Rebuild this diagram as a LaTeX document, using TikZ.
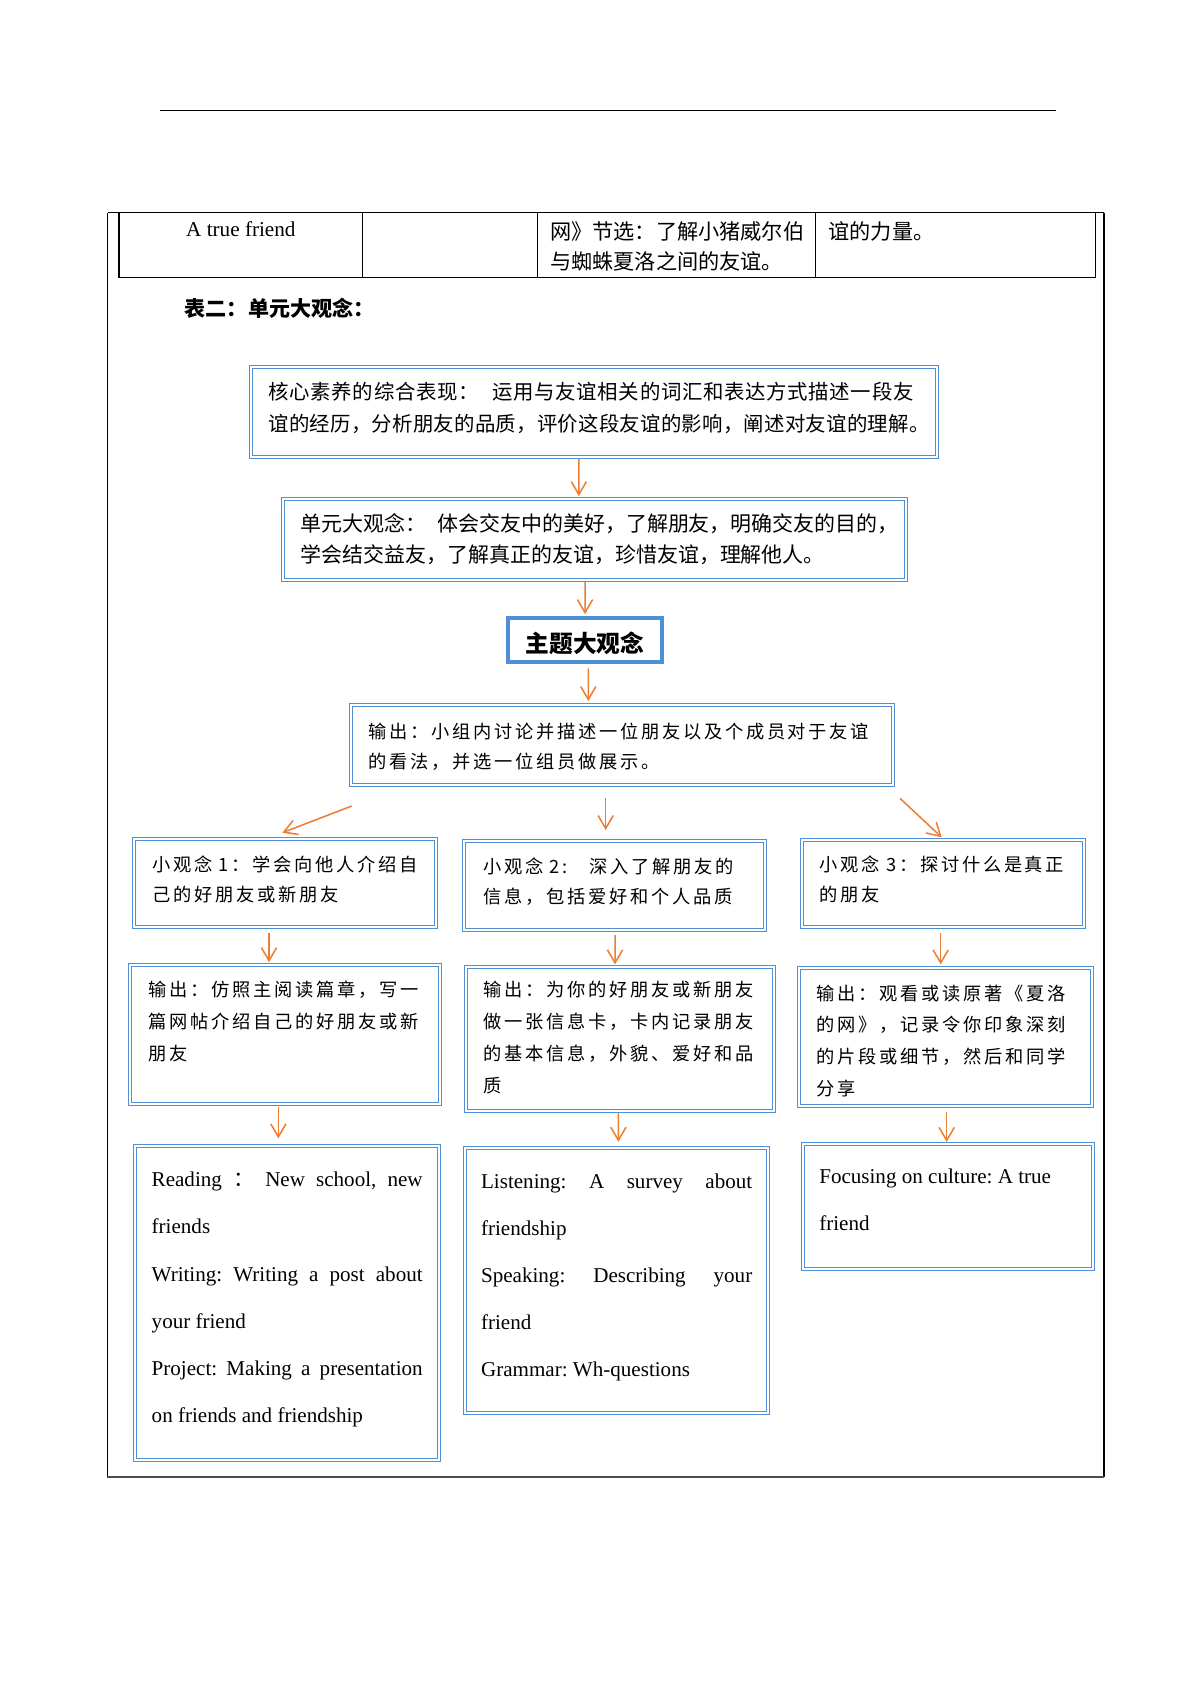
\documentclass[tikz,border=0pt]{standalone}
\usepackage{fontspec}
\setmainfont{Liberation Serif}
\newfontfamily\cjk{Noto Sans CJK SC}
\newfontfamily\cjkwide[LetterSpace=3.3]{Noto Sans CJK SC}
\newfontfamily\cjkwidea[LetterSpace=1.2]{Noto Sans CJK SC}
\newfontfamily\cjksp[LetterSpace=15]{Noto Sans CJK SC}
\usetikzlibrary{arrows.meta,calc}
\definecolor{boxblue}{RGB}{79,143,214}
\definecolor{arrorange}{RGB}{237,125,49}
\newcommand{\mkbox}[5]{\node[dbox,minimum width={#4-#2-3.6},minimum height={#5-#3-3.6}] (#1) at ({(#2+#4)/2},{(#3+#5)/2}) {};}
\newcommand{\natsp}{\spaceskip=0pt\xspaceskip=0pt\frenchspacing}
\begin{document}
\begin{tikzpicture}[x=1pt,y=-1pt,
  dbox/.style={draw=boxblue,double=white,line width=0.9pt,double distance=1.8pt,inner sep=0pt,outer sep=0pt,rectangle},
  tbox/.style={draw=boxblue,line width=3.7pt,inner sep=0pt,outer sep=0pt,rectangle},
  arr/.style={draw=arrorange,line width=1.4pt,-{Straight Barb[length=12pt,width=14pt]}},
  cjktxt/.style={anchor=base west,inner sep=0pt,outer sep=0pt,align=left,text width=640pt,font=\cjk\fontsize{18.8}{29.1}\selectfont},
  sptxt/.style={anchor=base west,inner sep=0pt,outer sep=0pt,align=left,text width=640pt,font=\cjksp\fontsize{16.8}{29.2}\selectfont},
  entxt/.style={anchor=base west,inner sep=0pt,outer sep=0pt,align=left,text width=300pt,font=\fontsize{19.4}{43.5}\selectfont},
  frameline/.style={line width=1.1pt,draw=black}
]
\useasboundingbox (0,0) rectangle (1105,1562.6);

% header rule
\draw[line width=0.9pt] (147.3,101.9) -- (972,101.9);

% outer frame
\draw[frameline] (99,195.8) -- (1016.5,195.8);
\draw[frameline] (99,195.8) -- (99,1360);
\draw[frameline] (1016.5,195.8) -- (1016.5,1360);
\draw[line width=1.6pt,draw=black!70] (98.5,1360) -- (1017,1360);

% table row
\draw[frameline] (109.6,195.8) rectangle (1009,255.4);
\foreach \x in {334,494.8,750.8} \draw[frameline] (\x,195.8) -- (\x,255.4);
\node[anchor=base,inner sep=0pt,font=\fontsize{19.5}{23}\selectfont] (t11) at (221.8,218) {A true friend};
\node[cjktxt,font=\cjk\fontsize{19.5}{27.7}\selectfont] (t13) at (506.6,220.7) {网》节选：了解小猪威尔伯\\与蜘蛛夏洛之间的友谊。};
\node[cjktxt,font=\cjk\fontsize{19.5}{27.7}\selectfont] (t14) at (763,220.7) {谊的力量。};

\node[cjktxt,font=\cjk\bfseries\fontsize{19.4}{22}\selectfont] (head2) at (170.2,291.2) {表二：单元大观念：};

% boxes
\mkbox{b1}{229.5}{336.1}{864.5}{422.7}
\mkbox{b2}{259.2}{457.3}{836}{535.6}
\node[tbox,minimum width=142pt,minimum height=41pt] (b3) at (538.85,589.15) {};
\mkbox{b4}{321.4}{647.5}{824.1}{725}
\mkbox{nA}{121.2}{771}{403.6}{855.7}
\mkbox{nB}{425.7}{772.8}{706}{857.9}
\mkbox{nC}{736.6}{771.3}{1000}{855.7}
\mkbox{nA2}{118}{887}{406.7}{1018}
\mkbox{nB2}{427.3}{888.6}{714.3}{1024.5}
\mkbox{nC2}{733.6}{889.2}{1007.7}{1020}
\mkbox{nA3}{122.8}{1053.2}{406}{1346}
\mkbox{nB3}{426}{1055}{709}{1303}
\mkbox{nC3}{737.3}{1051.3}{1008.3}{1170.4}

% texts
\node[cjktxt] (b1t) at (247.3,367.8) {{\cjkwide 核心素养的综合表现：}\hspace{12.5pt}{\cjkwide 运用与友谊相关的词汇和表达方式描述一段友}\\{\cjkwidea 谊的经历，分析朋友的品质，评价这段友谊的影响，阐述对友谊的理解。}};
\node[cjktxt,font=\cjk\fontsize{19.3}{29.1}\selectfont] (b2t) at (277,489) {单元大观念：\hspace{10pt}体会交友中的美好，了解朋友，明确交友的目的，\\学会结交益友，了解真正的友谊，珍惜友谊，理解他人。};
\node[anchor=center,inner sep=0pt,font=\cjk\bfseries\fontsize{21.8}{26}\selectfont] (b3t) at (538.8,592.4) {主题大观念};
\node[sptxt,font=\cjksp\fontsize{16.8}{27.7}\selectfont] (b4t) at (339.2,680.1) {输出：小组内讨论并描述一位朋友以及个成员对于友谊\\的看法，并选一位组员做展示。};

\node[sptxt,font=\cjksp\fontsize{16.8}{27.6}\selectfont] (nAt) at (140.3,802.9) {小观念 1：学会向他人介绍自\\己的好朋友或新朋友};
\node[sptxt,font=\cjksp\fontsize{16.8}{27.6}\selectfont] (nBt) at (445,803.9) {小观念 2:\hspace{20pt}深入了解朋友的\\信息，包括爱好和个人品质};
\node[sptxt,font=\cjksp\fontsize{16.8}{27.6}\selectfont] (nCt) at (755,802.9) {小观念 3：探讨什么是真正\\的朋友};

\node[sptxt] (nA2t) at (136.6,918) {输出：仿照主阅读篇章，写一\\篇网帖介绍自己的好朋友或新\\朋友};
\node[sptxt] (nB2t) at (445,918) {输出：为你的好朋友或新朋友\\做一张信息卡，卡内记录朋友\\的基本信息，外貌、爱好和品\\质};
\node[sptxt] (nC2t) at (752,921) {输出：观看或读原著《夏洛\\的网》，记录令你印象深刻\\的片段或细节，然后和同学\\分享};

\node[entxt] (nA3t) at (139.7,1092.7) {\natsp\makebox[249.5pt][l]{Reading\hfill{\cjk ：}\hfill New\hfill school,\hfill new}\\friends\\\makebox[249.5pt][l]{Writing:\hfill Writing\hfill a\hfill post\hfill about}\\your friend\\\makebox[249.5pt][l]{Project:\hfill Making\hfill a\hfill presentation}\\on friends and friendship};
\node[entxt,font=\fontsize{19.4}{43.4}\selectfont] (nB3t) at (443,1094.2) {\natsp\makebox[249.7pt][l]{Listening:\hfill A\hfill survey\hfill about}\\friendship\\\makebox[249.7pt][l]{Speaking:\hfill Describing\hfill your}\\friend\\Grammar: Wh-questions};
\node[entxt,font=\fontsize{19.4}{43}\selectfont] (nC3t) at (754.4,1089.6) {\natsp Focusing on culture: A true\\friend};

% arrows
\draw[arr] ($(b1.south)+(-14,1.8)$) -- ($(b2.north)+(-14.6,-2.3)$);
\draw[arr] ($(b2.south)+(-8.9,1.8)$) -- ($(b3.north)+(-0.15,-3.2)$);
\draw[arr] ($(b3.south)+(2.85,5.75)$) -- ($(b4.north)+(-31.05,-3.8)$);
\draw[arr] ($(b4.south west)+(0.6,19)$) -- ($(nA.north)+(-2.4,-6.1)$);
\draw[arr] ($(b4.south)+(-15.05,11.8)$) -- ($(nB.north)+(-8.15,-10.3)$);
\draw[arr] ($(b4.south east)+(6.4,11.9)$) -- ($(nC.north)+(-1.2,-2.1)$);
\draw[arr] ($(nA.south)+(-14.7,5.1)$) -- ($(nA2.north)+(-14.65,-2.8)$);
\draw[arr] ($(nB.south)+(0.45,4.9)$) -- ($(nB2.north)+(-4.5,-2.4)$);
\draw[arr] ($(nC.south)+(-2.1,5.1)$) -- ($(nC2.north)+(-4.45,-3)$);
\draw[arr] ($(nA2.south)+(-6.05,2.8)$) -- ($(nA3.north)+(-8.1,-6.8)$);
\draw[arr] ($(nB2.south)+(-1.4,2.3)$) -- ($(nB3.north)+(1.9,-5.5)$);
\draw[arr] ($(nC2.south)+(1.05,5.4)$) -- ($(nC3.north)+(-1.1,-1.6)$);
\end{tikzpicture}
\end{document}
